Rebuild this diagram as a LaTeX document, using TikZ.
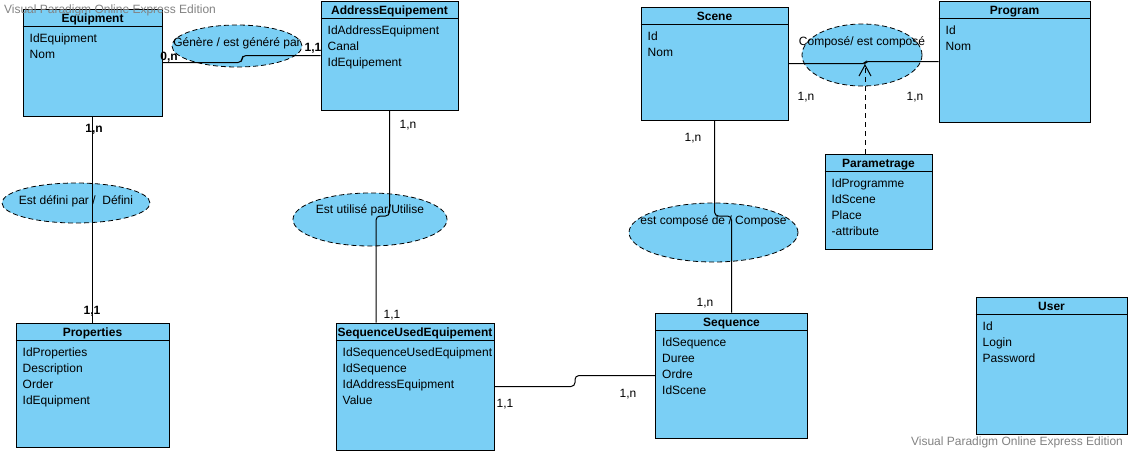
\documentclass[tikz,border=0pt]{standalone}
\usepackage{fontspec}
\setmainfont{Liberation Sans}
\usetikzlibrary{shapes.geometric,arrows.meta}
\definecolor{vpblue}{RGB}{122,207,245}
\definecolor{vpgray}{RGB}{130,130,130}
\begin{document}
\begin{tikzpicture}
    [
    x=1pt, y=-1pt,
    entity/.style={rectangle,draw,fill=vpblue,line width=1pt,inner sep=0pt},
    head/.style={font=\bfseries\fontsize{12}{14}\selectfont,inner sep=0pt,anchor=base},
    attr/.style={font=\fontsize{12}{16}\selectfont,align=left,inner sep=0pt,anchor=north west},
    relation/.style={ellipse,draw,fill=vpblue,line width=0.8pt,dash pattern=on 5pt off 3pt,inner sep=0pt},
    reltext/.style={font=\fontsize{12}{14}\selectfont,inner sep=0pt},
    card/.style={font=\fontsize{12}{14}\selectfont,inner sep=0pt},
    cardb/.style={card,font=\bfseries\fontsize{12}{14}\selectfont},
    link/.style={line width=1pt,rounded corners=4pt},
    wmark/.style={font=\fontsize{12}{14}\selectfont,text=vpgray,inner sep=0pt}
    ]
    \useasboundingbox (0,0) rectangle (1129,453);
    % entities
    \node (equipment) at (92.5,62.5) [entity,minimum width=139pt,minimum height=107pt] {};
    \node (address) at (389.5,55.5) [entity,minimum width=137pt,minimum height=109pt] {};
    \node (scene) at (714.5,63.5) [entity,minimum width=147pt,minimum height=113pt] {};
    \node (program) at (1014.5,61.5) [entity,minimum width=151pt,minimum height=121pt] {};
    \node (param) at (878.5,201.5) [entity,minimum width=107pt,minimum height=95pt] {};
    \node (properties) at (92.5,385) [entity,minimum width=153pt,minimum height=124pt] {};
    \node (sequse) at (415,386.5) [entity,minimum width=158pt,minimum height=127pt] {};
    \node (sequence) at (731.5,375.5) [entity,minimum width=152pt,minimum height=125pt] {};
    \node (user) at (1051.5,365.5) [entity,minimum width=151pt,minimum height=137pt] {};
    \foreach \e in {equipment,address,scene,program,param,properties,sequse,sequence,user}
      \draw [line width=1pt] ([yshift=-18pt]\e.north west) -- ([yshift=-18pt]\e.north east);
    \node (equipmenthead) at ([yshift=-13.5pt]equipment.north) [head] {Equipment};
    \node (addresshead) at ([yshift=-13.5pt]address.north) [head] {AddressEquipement};
    \node (scenehead) at ([yshift=-13.5pt]scene.north) [head] {Scene};
    \node (programhead) at ([yshift=-13.5pt]program.north) [head] {Program};
    \node (paramhead) at ([yshift=-13.5pt]param.north) [head] {Parametrage};
    \node (propertieshead) at ([yshift=-13.5pt]properties.north) [head] {Properties};
    \node (sequsehead) at ([yshift=-13.5pt]sequse.north) [head] {SequenceUsedEquipement};
    \node (sequencehead) at ([yshift=-13.5pt]sequence.north) [head] {Sequence};
    \node (userhead) at ([yshift=-13.5pt]user.north) [head] {User};
    \node (equipmentattr) at ([xshift=7pt,yshift=-25pt]equipment.north west) [attr] {IdEquipment\\Nom};
    \node (addressattr) at ([xshift=7pt,yshift=-25pt]address.north west) [attr] {IdAddressEquipment\\Canal\\IdEquipement};
    \node (sceneattr) at ([xshift=7pt,yshift=-25pt]scene.north west) [attr] {Id\\Nom};
    \node (programattr) at ([xshift=7pt,yshift=-25pt]program.north west) [attr] {Id\\Nom};
    \node (paramattr) at ([xshift=7pt,yshift=-25pt]param.north west) [attr] {IdProgramme\\IdScene\\Place\\-attribute};
    \node (propertiesattr) at ([xshift=7pt,yshift=-25pt]properties.north west) [attr] {IdProperties\\Description\\Order\\IdEquipment};
    \node (sequseattr) at ([xshift=7pt,yshift=-25pt]sequse.north west) [attr] {IdSequenceUsedEquipment\\IdSequence\\IdAddressEquipment\\Value};
    \node (sequenceattr) at ([xshift=7pt,yshift=-25pt]sequence.north west) [attr] {IdSequence\\Duree\\Ordre\\IdScene};
    \node (userattr) at ([xshift=7pt,yshift=-25pt]user.north west) [attr] {Id\\Login\\Password};
    % relations
    \node (genere) at (237,46) [relation,minimum width=130pt,minimum height=42pt,
      label={[reltext,yshift=3pt]center:Génère / est généré par}] {};
    \node (defini) at (76,203) [relation,minimum width=148pt,minimum height=40pt,
      label={[reltext,yshift=2pt]center:Est défini par /\ \ Défini}] {};
    \node (utilise) at (370,219.5) [relation,minimum width=154pt,minimum height=53pt,
      label={[reltext,yshift=9.5pt]center:Est utilisé par/Utilise}] {};
    \node (compose) at (713.5,232.5) [relation,minimum width=169pt,minimum height=59pt,
      label={[reltext,yshift=11.5pt]center:est composé de / Compose}] {};
    \node (composeprog) at (862,55) [relation,minimum width=120pt,minimum height=62pt,
      label={[reltext,yshift=13pt]center:Composé/ est composé}] {};
    % links
    \coordinate (jog) at (865,64);
    \draw [link] (equipment.east) -- (242,62.5) -- (242,55.5) -- (address.west);
    \draw [link] (equipment.south) -- (properties.north);
    \draw [link] (address.south) -- (389.5,216) -- (376,216) -- (376,0 |- sequse.north);
    \draw [link] (scene.south) -- (714.5,216) -- (731.5,216) -- (sequence.north);
    \draw [link,rounded corners=2pt] (scene.east) -- (865,63.5) -- (866,61.5) -- (program.west);
    \draw [link] (sequse.east) -- (575,386.5) -- (575,375.5) -- (sequence.west);
    \draw [line width=1pt,dash pattern=on 5pt off 4pt,-{Straight Barb[length=11pt,width=12pt]}] (param.north -| jog) -- (jog);
    % cardinalities
    \node (c1) at (169,57) [cardb] {0,n};
    \node (c2) at (313,48) [cardb] {1,1};
    \node (c3) at (94,129) [cardb] {1,n};
    \node (c4) at (92,311) [cardb] {1,1};
    \node (c5) at (408,125) [card] {1,n};
    \node (c6) at (392,315) [card] {1,1};
    \node (c7) at (693,138) [card] {1,n};
    \node (c8) at (705,303) [card] {1,n};
    \node (c9) at (806,97) [card] {1,n};
    \node (c10) at (915,97) [card] {1,n};
    \node (c11) at (505,404) [card] {1,1};
    \node (c12) at (628,394) [card] {1,n};
    % watermark
    \node (wmtop) at (110,10) [wmark] {Visual Paradigm Online Express Edition};
    \node (wmbottom) at (1017,442) [wmark] {Visual Paradigm Online Express Edition};
  \end{tikzpicture}
\end{document}
